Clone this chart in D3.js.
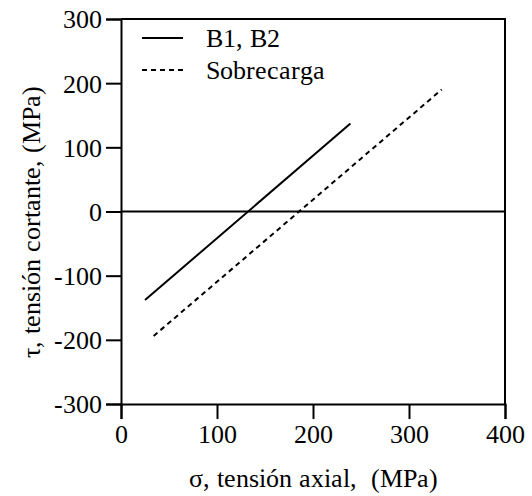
<!DOCTYPE html>
<html>
<head>
<meta charset="utf-8">
<script src="https://cdn.jsdelivr.net/npm/d3@7"></script>
<style>
  @font-face {
    font-family: "ChartSerif";
    src: local("Liberation Serif"), local("LiberationSerif"), local("LiberationSerif-Regular"), local("Times New Roman");
  }
  body { margin: 0; }
  #chart text { font-family: "ChartSerif", "Liberation Serif", serif !important; }
</style>
</head>
<body>
<svg id="chart" width="532" height="496"></svg>
<script>
// Shear stress vs axial stress lines
const seriesNames = ["B1, B2", "Sobrecarga"];
const seriesDash = [null, "5,4"];
const b1b2 = [[25, -138], [239, 137]];
const sobrecarga = [[34, -194], [334, 190]];
const xTicks = [0, 100, 200, 300, 400];
const yTicks = [-300, -200, -100, 0, 100, 200, 300];

const svg = d3.select("#chart");
const margin = { left: 121, right: 27, top: 19, bottom: 92 };
const W = 532, H = 496;

const x = d3.scaleLinear().domain([0, 400]).range([margin.left, W - margin.right]);
const y = d3.scaleLinear().domain([-300, 300]).range([H - margin.bottom, margin.top]);

const fontSize = 26;
const fmt = d => String(d);

function serif(sel) {
  return sel
    .attr("font-family", "ChartSerif, Liberation Serif, serif")
    .attr("font-size", fontSize)
    .style("white-space", "pre");
}

// frame (top and right)
svg.append("path")
  .attr("d", `M${x(0)},${y(300)}H${x(400)}V${y(-300)}`)
  .attr("fill", "none").attr("stroke", "#000").attr("stroke-width", 2);

// x axis
const xAxis = svg.append("g")
  .attr("transform", `translate(0,${y(-300)})`)
  .call(d3.axisBottom(x).tickValues(xTicks).tickSize(15).tickPadding(6).tickFormat(fmt));
// y axis
const yAxis = svg.append("g")
  .attr("transform", `translate(${x(0)},0)`)
  .call(d3.axisLeft(y).tickValues(yTicks).tickSize(15).tickPadding(4).tickFormat(fmt));

[xAxis, yAxis].forEach(g => {
  g.attr("font-family", null).attr("font-size", null);
  g.select(".domain").attr("stroke-width", 2);
  g.selectAll(".tick line").attr("stroke-width", 2);
  serif(g.selectAll(".tick text")).attr("fill", "#000");
});
yAxis.selectAll(".tick text").attr("dy", "0.34em");

// zero line
svg.append("line")
  .attr("x1", x(0)).attr("x2", x(400))
  .attr("y1", y(0)).attr("y2", y(0))
  .attr("stroke", "#000").attr("stroke-width", 2);

// data lines
const line = d3.line().x(d => x(d[0])).y(d => y(d[1]));
[b1b2, sobrecarga].forEach((data, i) => {
  svg.append("path")
    .datum(data)
    .attr("d", line)
    .attr("fill", "none")
    .attr("stroke", "#000")
    .attr("stroke-width", 2)
    .attr("stroke-dasharray", seriesDash[i]);
});

// legend
const legend = svg.append("g");
seriesNames.forEach((name, i) => {
  const ly = 38 + i * 32;
  legend.append("line")
    .attr("x1", 142).attr("x2", 183)
    .attr("y1", ly).attr("y2", ly)
    .attr("stroke", "#000").attr("stroke-width", 2)
    .attr("stroke-dasharray", seriesDash[i]);
  serif(legend.append("text"))
    .attr("x", 206).attr("y", ly)
    .attr("dy", "0.34em")
    .text(name);
});

// axis titles
serif(svg.append("text"))
  .attr("x", x(200)).attr("y", 487)
  .attr("text-anchor", "middle")
  .text("σ, tensión axial,  (MPa)");

serif(svg.append("text"))
  .attr("transform", "translate(40,222) rotate(-90)")
  .attr("text-anchor", "middle")
  .text("τ, tensión cortante, (MPa)");
</script>
</body>
</html>
